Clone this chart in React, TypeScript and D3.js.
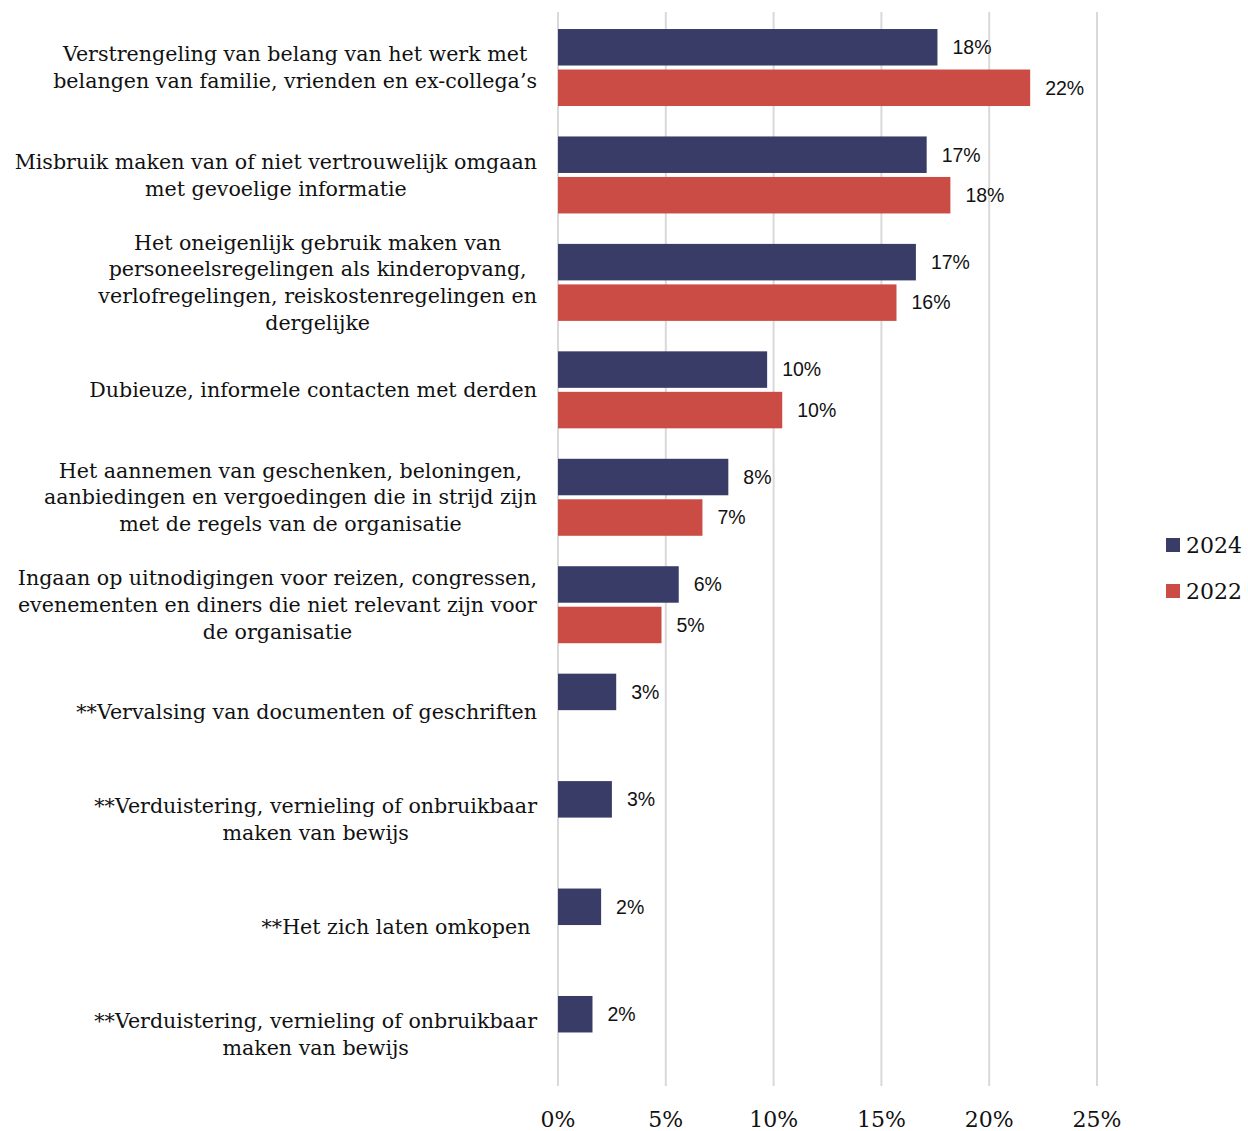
import { useEffect, useRef } from "react";
import * as d3 from "d3";

// category labels, one entry per line
const categories: string[][] = [
  ["Verstrengeling van belang van het werk met", "belangen van familie, vrienden en ex-collega’s"],
  ["Misbruik maken van of niet vertrouwelijk omgaan", "met gevoelige informatie"],
  ["Het oneigenlijk gebruik maken van", "personeelsregelingen als kinderopvang,", "verlofregelingen, reiskostenregelingen en", "dergelijke"],
  ["Dubieuze, informele contacten met derden"],
  ["Het aannemen van geschenken, beloningen,", "aanbiedingen en vergoedingen die in strijd zijn", "met de regels van de organisatie"],
  ["Ingaan op uitnodigingen voor reizen, congressen,", "evenementen en diners die niet relevant zijn voor", "de organisatie"],
  ["**Vervalsing van documenten of geschriften"],
  ["**Verduistering, vernieling of onbruikbaar", "maken van bewijs"],
  ["**Het zich laten omkopen "],
  ["**Verduistering, vernieling of onbruikbaar", "maken van bewijs"],
];

const values2024 = [17.6, 17.1, 16.6, 9.7, 7.9, 5.6, 2.7, 2.5, 2.0, 1.6];
const values2022: (number | null)[] = [21.9, 18.2, 15.7, 10.4, 6.7, 4.8, null, null, null, null];

const seriesNames = ["2024", "2022"];
const seriesColors = ["#383c67", "#cb4c44"];
const xTicks = [0, 5, 10, 15, 20, 25];

export default function App() {
  const svgRef = useRef<SVGSVGElement | null>(null);

  useEffect(() => {
    if (!svgRef.current) return;
    const width = 1248;
    const height = 1131;
    const svg = d3.select(svgRef.current);
    svg.selectAll("*").remove();

    const x = d3.scaleLinear().domain([0, 25]).range([558, 1097]);
    const y = d3.scaleBand<number>()
      .domain(d3.range(categories.length))
      .range([13.8, 1088.2]);
    const barH = 36.5;
    const gap = 4;

    // gridlines
    svg.append("g")
      .selectAll("line")
      .data(xTicks)
      .join("line")
      .attr("x1", d => x(d))
      .attr("x2", d => x(d))
      .attr("y1", 12)
      .attr("y2", 1086)
      .attr("stroke", "#d9d9d9")
      .attr("stroke-width", 2);

    // tick labels
    svg.append("g")
      .selectAll("text")
      .data(xTicks)
      .join("text")
      .attr("x", d => x(d))
      .attr("y", 1127)
      .attr("text-anchor", "middle")
      .attr("font-family", "'DejaVu Serif', serif")
      .attr("font-size", 22)
      .attr("fill", "#111")
      .text(d => `${d}%`);

    const rows = d3.range(categories.length);
    const pairTop = (i: number) => (y(i) as number) + (y.bandwidth() - (2 * barH + gap)) / 2;

    const series = [values2024, values2022];
    series.forEach((vals, s) => {
      const data = rows
        .map(i => ({ i, v: vals[i] }))
        .filter(d => d.v !== null) as { i: number; v: number }[];
      const g = svg.append("g");
      g.selectAll("rect")
        .data(data)
        .join("rect")
        .attr("x", x(0))
        .attr("y", d => pairTop(d.i) + s * (barH + gap))
        .attr("width", d => x(d.v) - x(0))
        .attr("height", barH)
        .attr("fill", seriesColors[s]);
      g.selectAll("text")
        .data(data)
        .join("text")
        .attr("x", d => x(d.v) + 15)
        .attr("y", d => pairTop(d.i) + s * (barH + gap) + barH / 2)
        .attr("dy", "0.35em")
        .attr("font-family", "'Liberation Sans', Arial, sans-serif")
        .attr("font-size", 19.5)
        .attr("fill", "#111")
        .text(d => `${Math.round(d.v)}%`);
    });

    // category labels, centred lines in a block right-aligned at 537
    const lineH = 26.7;
    const labels = svg.append("g")
      .attr("font-family", "'DejaVu Serif', serif")
      .attr("font-size", 20.6)
      .attr("fill", "#111");
    categories.forEach((lines, i) => {
      const cy = (y(i) as number) + y.bandwidth() / 2;
      const g = labels.append("g");
      const texts = g.selectAll("text")
        .data(lines)
        .join("text")
        .attr("y", (_, k) => cy + (k - (lines.length - 1) / 2) * lineH)
        .attr("dy", "0.35em")
        .attr("xml:space", "preserve")
        .style("white-space", "pre")
        .text(d => d);
      let maxW = 0;
      texts.each(function () {
        maxW = Math.max(maxW, (this as SVGTextElement).getComputedTextLength());
      });
      texts.attr("x", 537 - maxW / 2).attr("text-anchor", "middle");
    });

    // legend
    const legend = svg.append("g");
    seriesNames.forEach((name, s) => {
      legend.append("rect")
        .attr("x", 1166)
        .attr("y", 538 + s * 46)
        .attr("width", 14)
        .attr("height", 14)
        .attr("fill", seriesColors[s]);
      legend.append("text")
        .attr("x", 1186)
        .attr("y", 553 + s * 46)
        .attr("font-family", "'DejaVu Serif', serif")
        .attr("font-size", 22)
        .attr("fill", "#111")
        .text(name);
    });

    svg.attr("viewBox", `0 0 ${width} ${height}`);
  }, []);

  return (
    <svg
      ref={svgRef}
      width={1248}
      height={1131}
      style={{ position: "absolute", left: 0, top: 0, background: "#fff" }}
    />
  );
}
